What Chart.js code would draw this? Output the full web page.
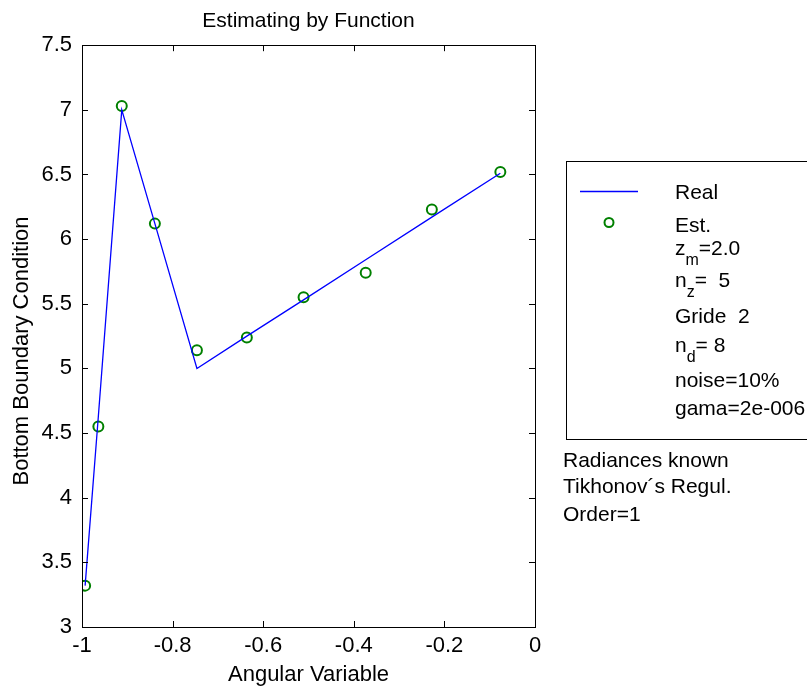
<!DOCTYPE html>
<html>
<head>
<meta charset="utf-8">
<script src="https://cdn.jsdelivr.net/npm/chart.js@4.4.1/dist/chart.umd.min.js"></script>
<style>
  html, body { margin: 0; padding: 0; background: #fff; }
  #chart { display: block; }
</style>
</head>
<body>
<canvas id="chart" width="807" height="688"></canvas>
<script>
// nodos angulares (abscisas) y valores
const angles = [-0.9931, -0.9639, -0.9122, -0.8391, -0.7463, -0.6361, -0.5109, -0.3737, -0.2277, -0.0765];
const realValues = [3.32, 4.63, 7.0, 6.12, 5.0, 5.25, 5.53, 5.84, 6.17, 6.51];
const estValues = [3.32, 4.55, 7.03, 6.12, 5.14, 5.24, 5.55, 5.74, 6.23, 6.52];

const xTicks = [-1, -0.8, -0.6, -0.4, -0.2, 0];
const yTicks = [3, 3.5, 4, 4.5, 5, 5.5, 6, 6.5, 7, 7.5];

const FONT = 'Liberation Sans';

// marco tipo matlab con ticks hacia adentro, titulo del eje y leyenda a la derecha
const boxPlugin = {
    id: 'boxPlugin',
    afterDraw(chart) {
        const c = chart.ctx;
        const a = chart.chartArea;
        const xs = chart.scales.x;
        const ys = chart.scales.y;
        c.save();
        c.strokeStyle = '#000';
        c.lineWidth = 1;
        c.strokeRect(Math.round(a.left) + 0.5, Math.round(a.top) + 0.5, Math.round(a.right - a.left), Math.round(a.bottom - a.top));
        c.beginPath();
        xTicks.forEach(v => {
            const px = Math.round(xs.getPixelForValue(v)) + 0.5;
            c.moveTo(px, a.bottom); c.lineTo(px, a.bottom - 6);
            c.moveTo(px, a.top); c.lineTo(px, a.top + 6);
        });
        yTicks.forEach(v => {
            const py = Math.round(ys.getPixelForValue(v)) + 0.5;
            c.moveTo(a.left, py); c.lineTo(a.left + 6, py);
            c.moveTo(a.right, py); c.lineTo(a.right - 6, py);
        });
        c.stroke();

        // titulo eje y
        c.fillStyle = '#000';
        c.font = '22px "' + FONT + '"';
        c.textAlign = 'center';
        c.textBaseline = 'middle';
        c.translate(22, 351);
        c.rotate(-Math.PI / 2);
        c.fillText('Bottom Boundary Condition', 0, 0);
        c.restore();

        // leyenda
        c.save();
        c.strokeStyle = '#000';
        c.lineWidth = 1;
        c.strokeRect(566.5, 161.5, 260, 278);
        c.beginPath();
        c.strokeStyle = 'rgb(0,0,255)';
        c.lineWidth = 1.5;
        c.moveTo(580, 191.5); c.lineTo(638, 191.5);
        c.stroke();
        c.beginPath();
        c.strokeStyle = 'rgb(0,128,0)';
        c.lineWidth = 2;
        c.arc(609, 222.5, 4.5, 0, Math.PI * 2);
        c.stroke();

        c.fillStyle = '#000';
        c.textAlign = 'left';
        c.textBaseline = 'alphabetic';
        const big = '21px "' + FONT + '"';
        const small = '16px "' + FONT + '"';
        const tx = 675;
        const withSub = (main, sub, rest, y) => {
            c.font = big;
            c.fillText(main, tx, y);
            let x = tx + c.measureText(main).width;
            c.font = small;
            c.fillText(sub, x, y + 10);
            x += c.measureText(sub).width;
            c.font = big;
            c.fillText(rest, x, y);
        };
        c.font = big;
        c.fillText('Real', tx, 199);
        c.fillText('Est.', tx, 232);
        withSub('z', 'm', '=2.0', 255);
        withSub('n', 'z', '=  5', 287);
        c.font = big;
        c.fillText('Gride  2', tx, 323);
        withSub('n', 'd', '= 8', 352);
        c.font = big;
        c.fillText('noise=10%', tx, 387);
        c.fillText('gama=2e-006', tx, 415);

        c.fillText('Radiances known', 563, 467);
        c.fillText('Tikhonov\u00b4s Regul.', 563, 493);
        c.fillText('Order=1', 563, 521);
        c.restore();
    }
};

const chart = document.getElementById('chart');

const ctx = new Chart(chart, {
    type: 'scatter',
    data: {
        datasets: [
            {
                label: 'Real',
                data: angles.map((a, i) => ({ x: a, y: realValues[i] })),
                showLine: true,
                borderColor: 'rgb(0,0,255)',
                borderWidth: 1.3,
                pointRadius: 0,
                tension: 0
            },
            {
                label: 'Est.',
                data: angles.map((a, i) => ({ x: a, y: estValues[i] })),
                showLine: false,
                borderColor: 'rgb(0,128,0)',
                backgroundColor: 'rgba(0,0,0,0)',
                borderWidth: 2,
                pointRadius: 5,
                pointStyle: 'circle'
            }
        ]
    },
    options: {
        responsive: false,
        animation: false,
        layout: { padding: { left: 0, right: 272, top: 0, bottom: 0 } },
        plugins: {
            legend: { display: false },
            tooltip: { enabled: false },
            title: {
                display: true,
                text: 'Estimating by Function',
                fullSize: false,
                color: '#000',
                font: { family: FONT, size: 21, weight: 'normal' },
                padding: { top: 9, bottom: 11 }
            }
        },
        scales: {
            x: {
                type: 'linear',
                min: -1,
                max: 0,
                afterFit: s => { s.height = 61; },
                afterBuildTicks: s => { s.ticks = xTicks.map(v => ({ value: v })); },
                grid: { display: false, drawTicks: false },
                border: { display: false },
                ticks: {
                    color: '#000',
                    padding: 6,
                    maxRotation: 0,
                    font: { family: FONT, size: 22 },
                    callback: v => String(Math.round(v * 10) / 10)
                },
                title: {
                    display: true,
                    text: 'Angular Variable',
                    color: '#000',
                    font: { family: FONT, size: 22 },
                    padding: { top: 0, bottom: 0 }
                }
            },
            y: {
                type: 'linear',
                min: 3,
                max: 7.5,
                afterFit: s => { s.width = 82; },
                afterBuildTicks: s => { s.ticks = yTicks.map(v => ({ value: v })); },
                grid: { display: false, drawTicks: false },
                border: { display: false },
                ticks: {
                    color: '#000',
                    padding: 10,
                    font: { family: FONT, size: 22 },
                    callback: v => String(v)
                }
            }
        }
    },
    plugins: [boxPlugin]
});
</script>
</body>
</html>
